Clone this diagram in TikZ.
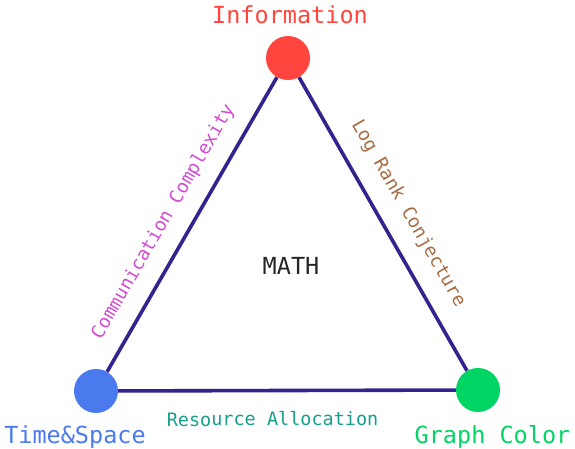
\documentclass[tikz,border=0pt]{standalone}
\usepackage{fontspec}
\setmonofont{DejaVu Sans Mono}
\usepackage{xcolor}
\usepackage{tikz}
\usetikzlibrary{positioning}
\definecolor{infored}{HTML}{FF453D}
\definecolor{timeblue}{HTML}{4A7AEE}
\definecolor{graphgreen}{HTML}{00D563}
\definecolor{commpink}{HTML}{D24AD2}
\definecolor{rankbrown}{HTML}{A86B42}
\definecolor{restea}{HTML}{16A08A}
\definecolor{edgeindigo}{HTML}{35228E}
\tikzset{
  vertex/.style={
    shape = circle,
    inner sep = 0pt,
    minimum size = 44pt,
    draw = none
  },
  bigname/.style={
    anchor = base,
    inner sep = 0pt,
    font = \ttfamily\fontsize{23.5}{28}\selectfont
  },
  edgename/.style={
    sloped,
    font = \ttfamily\fontsize{18.5}{22}\selectfont
  },
  side/.style={
    line width = 3.6pt,
    draw = edgeindigo
  }
}

\begin{document}
\begin{tikzpicture}[x=1pt,y=-1pt]
    \useasboundingbox (0,0) rectangle (575,449);
    \node[vertex, fill=infored] (info) at (288,58) {};
    \node[vertex, fill=timeblue] (time) at (96,391) {};
    \node[vertex, fill=graphgreen] (graph) at (478,390) {};
    \draw[side] (time) -- node[edgename, above=12pt, pos=0.465, text=commpink] (comm) {Communication Complexity} (info);
    \draw[side] (info) -- node[edgename, above=13pt, pos=0.51, text=rankbrown] (rank) {Log Rank Conjecture} (graph);
    \draw[side] (time) -- node[edgename, below=16pt, pos=0.457, text=restea] (res) {Resource Allocation} (graph);
    \node[bigname, text=infored] (infolabel) at (290,24) {Information};
    \node[bigname, text=timeblue] (timelabel) at (75,443) {Time\&Space};
    \node[bigname, text=graphgreen] (graphlabel) at (492.5,443) {Graph Color};
    \node[bigname, text=black!85] (math) at (291,274) {MATH};
\end{tikzpicture}
\end{document}
